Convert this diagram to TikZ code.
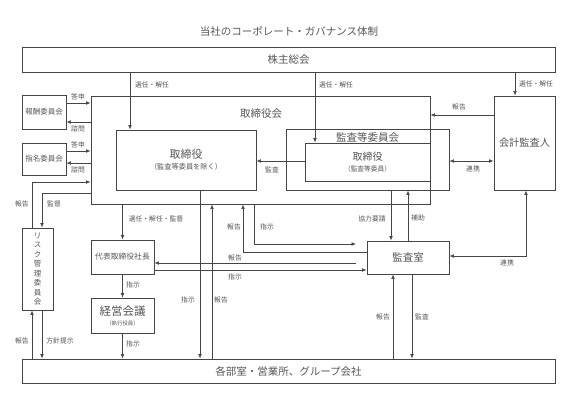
\documentclass[tikz,border=0pt]{standalone}
\usepackage{fontspec}
\setmainfont{Noto Sans CJK JP}
\usepackage{xcolor}
\usetikzlibrary{arrows.meta,calc}
\definecolor{linegray}{HTML}{454545}
\definecolor{textgray}{HTML}{555555}
\tikzset{
  box/.style={draw=linegray,line width=0.9pt,inner sep=0pt,text=textgray,align=center},
  lbl/.style={font=\fontsize{6.8}{8}\selectfont,text=textgray,inner sep=0pt},
  con/.style={draw=linegray,line width=0.7pt},
}

\begin{document}
\begin{tikzpicture}[x=1pt,y=-1pt,>={Latex[length=4.5pt,width=3.8pt]},font=\fontsize{10}{12}\selectfont]
  \useasboundingbox (0,0) rectangle (567,396);
  \node[text=textgray,font=\fontsize{10.5}{12}\selectfont] (title) at (289,31) {当社のコーポレート・ガバナンス体制};

  % boxes
  \node[box,minimum width=533,minimum height=25,font=\fontsize{10.5}{12}\selectfont] (kabu) at (288.5,59.5) {株主総会};
  \node[box,minimum width=339,minimum height=108] (torikai) at (260.5,150) {};
  \node[text=textgray,font=\fontsize{10.5}{12}\selectfont] (torikaiT) at (261,114) {取締役会};
  \node[box,minimum width=140,minimum height=60] (tori1) at (186,160)
    {\fontsize{11}{14}\selectfont 取締役\\[-1pt]\fontsize{7.2}{9}\selectfont （監査等委員を除く）};
  \node[box,minimum width=163,minimum height=61] (iinkai) at (367.5,159.5) {};
  \node[text=textgray,font=\fontsize{10.5}{12}\selectfont] (iinkaiT) at (367.5,137) {監査等委員会};
  \node[box,minimum width=125,minimum height=38] (tori2) at (367.5,162)
    {\fontsize{10}{13}\selectfont 取締役\\[-1pt]\fontsize{6.7}{8}\selectfont （監査等委員）};
  \node[box,minimum width=61,minimum height=94,font=\fontsize{10.2}{12}\selectfont] (kaikei) at (524.5,143) {会計監査人};
  \node[box,minimum width=44,minimum height=34,font=\fontsize{7.5}{9}\selectfont] (hoshu) at (44,112) {報酬委員会};
  \node[box,minimum width=44,minimum height=32,font=\fontsize{7.5}{9}\selectfont] (shimei) at (44,159) {指名委員会};
  \node[box,minimum width=31,minimum height=82,font=\fontsize{7.5}{9.5}\selectfont] (risk) at (37.5,269)
    {リ\\ス\\ク\\管\\理\\委\\員\\会};
  \node[box,minimum width=63,minimum height=34,font=\fontsize{7.8}{9}\selectfont] (daihyo) at (122.5,257) {代表取締役社長};
  \node[box,minimum width=63,minimum height=35] (keiei) at (122.5,315.5)
    {\fontsize{11.5}{13}\selectfont 経営会議\\[-2pt]\fontsize{5.4}{6}\selectfont （執行役員）};
  \node[box,minimum width=82,minimum height=33,font=\fontsize{10.5}{12}\selectfont] (kansa) at (408,257.5) {監査室};
  \node[box,minimum width=533,minimum height=24,font=\fontsize{10.5}{12}\selectfont] (bumon) at (288.5,371) {各部室・営業所、グループ会社};

  % 株主総会から
  \draw[con,->] (130,0 |- kabu.south) -- (130,0 |- tori1.north);
  \draw[con,->] (315,0 |- kabu.south) -- (315,0 |- tori2.north);
  \draw[con,->] (515,0 |- kabu.south) -- (515,0 |- kaikei.north);
  \node[lbl] (senA) at (152,85) {選任・解任};
  \node[lbl] (senB) at (336,85) {選任・解任};
  \node[lbl] (senC) at (536,84) {選任・解任};

  % 委員会
  \foreach \n/\ya/\yb in {hoshu/103/122, shimei/151/163} {
    \draw[con,->] (\n.east |- 0,\ya) -- (torikai.west |- 0,\ya);
    \draw[con,->] (torikai.west |- 0,\yb) -- (\n.east |- 0,\yb);
  }
  \node[lbl] (toA) at (78,97) {答申};
  \node[lbl] (shiA) at (78,128.5) {諮問};
  \node[lbl] (toB) at (78,145) {答申};
  \node[lbl] (shiB) at (78,170) {諮問};

  % リスク管理委員会
  \draw[con,->] (32,0 |- risk.north) |- (torikai.west |- 0,182);
  \draw[con,->] (torikai.west |- 0,193) -| (42,0 |- risk.north);
  \draw[con,->] (32,0 |- bumon.north) -- (32,0 |- risk.south);
  \draw[con,->] (42,0 |- risk.south) -- (42,0 |- bumon.north);
  \node[lbl] (rkA) at (22,204) {報告};
  \node[lbl] (kantoku) at (54,204) {監督};
  \node[lbl] (rkB) at (22,341) {報告};
  \node[lbl] (hoshin) at (60,341) {方針提示};

  % 取締役会・会計監査人
  \draw[con,->] (tori2.west |- 0,161) -- (tori1.east |- 0,161);
  \draw[con,->] (kaikei.west |- 0,115) -- (torikai.east |- 0,115);
  \draw[con,<->] (iinkai.east |- 0,161) -- (kaikei.west |- 0,161);
  \node[lbl] (kansaA) at (272,170) {監査};
  \node[lbl] (hkA) at (459,107) {報告};
  \node[lbl] (renA) at (473,169) {連携};

  % 監査室
  \draw[con,->] (391,0 |- iinkai.south) -- (391,0 |- kansa.north);
  \draw[con,->] (408,0 |- kansa.north) -- (408,0 |- iinkai.south);
  \node[lbl] (kyoryoku) at (372,219) {協力要請};
  \node[lbl] (hojo) at (418,218) {補助};
  \draw[con,->] (kansa.west |- 0,252) -| (243,0 |- torikai.south);
  \coordinate (shijiEnd) at (356,244);
  \draw[con,->] (254,0 |- torikai.south) |- (shijiEnd);
  \node[lbl] (hkB) at (234,227) {報告};
  \node[lbl] (sjA) at (267,227) {指示};
  \coordinate (hokokuStart) at (356,263);
  \draw[con,->] (hokokuStart) -- (daihyo.east |- hokokuStart);
  \draw[con,->] (daihyo.east |- 0,270) -- (kansa.west |- 0,270);
  \node[lbl] (hkC) at (235,258) {報告};
  \node[lbl] (sjB) at (235,277) {指示};
  \draw[con,->] (393,0 |- bumon.north) -- (393,0 |- kansa.south);
  \draw[con,->] (412,0 |- kansa.south) -- (412,0 |- bumon.north);
  \node[lbl] (hkD) at (383,317) {報告};
  \node[lbl] (kansaB) at (422,317) {監査};
  \draw[con,<->] (kansa.east |- 0,256) -| (526,0 |- kaikei.south);
  \node[lbl] (renB) at (507,263) {連携};

  % 執行側
  \draw[con,->] (122.5,0 |- torikai.south) -- (daihyo.north);
  \draw[con,->] (daihyo) -- (keiei);
  \draw[con,->] (keiei.south) -- (keiei.south |- bumon.north);
  \node[lbl] (sennin) at (156,219) {選任・解任・監督};
  \node[lbl] (sjC) at (133,285) {指示};
  \node[lbl] (sjD) at (133,344) {指示};
  \draw[con,->] (200,0 |- tori1.south) -- (200,0 |- bumon.north);
  \draw[con,->] (212,0 |- bumon.north) -- (212,0 |- torikai.south);
  \node[lbl] (sjE) at (188,300) {指示};
  \node[lbl] (hkE) at (221,300) {報告};
\end{tikzpicture}
\end{document}
